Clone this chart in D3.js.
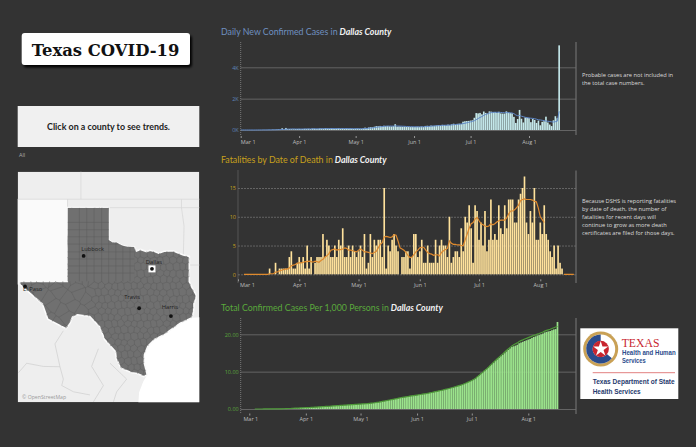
<!DOCTYPE html>
<html>
<head>
<meta charset="utf-8">
<script src="https://cdnjs.cloudflare.com/ajax/libs/d3/7.8.5/d3.min.js"></script>
<style>
  body { margin: 0; background: #333333; }
  text { font-family: "Open Sans", sans-serif; }
</style>
</head>
<body>
<svg id="chart" width="696" height="447"></svg>
<script>
// Daily values start on Mar 1 2020, one row per month (Mar, Apr, May, Jun, Jul, Aug)
var dailyCases = [
  0,0,0,0,0,0,0,0,2,3,5,5,10,8,10,15,10,25,20,30,40,30,110,45,130,55,60,55,50,60,65,
  70,60,65,75,70,80,60,90,85,70,75,100,90,80,110,95,85,105,80,75,90,110,85,100,80,95,75,85,80,70,
  85,90,80,75,95,150,130,160,180,170,210,250,240,260,230,270,250,260,240,230,250,370,220,230,220,210,220,200,210,190,200,
  190,200,210,200,220,190,260,270,250,280,260,270,290,310,280,330,320,300,340,310,360,400,350,390,400,380,530,560,570,580,
  600,620,780,1080,1060,1090,1000,1180,1090,1050,1190,1170,1130,1150,1100,1160,1060,1050,1050,1190,1110,1080,1070,840,450,700,1280,720,480,800,780,
  760,500,700,640,450,600,300,520,560,850,480,350,250,620,880,750,5400
];
var dailyCasesAvg = [
  0,0,0,0,0,0,0,0,0,1,1,2,3,4,5,7,8,10,12,15,19,22,35,38,52,56,60,65,70,62,60,
  62,60,62,66,68,70,70,74,78,75,75,78,82,85,88,90,90,92,92,90,88,90,90,92,90,92,90,88,85,82,
  82,85,82,80,82,90,100,115,125,135,155,175,190,205,220,235,245,250,250,250,248,265,255,250,245,240,235,225,218,212,208,
  205,205,203,202,205,208,215,225,235,245,255,260,270,280,285,295,300,305,310,315,325,340,350,360,370,385,405,430,460,490,
  520,550,590,660,730,800,860,930,990,1030,1080,1110,1130,1130,1130,1130,1120,1110,1105,1110,1110,1100,1085,1045,960,910,930,880,850,810,790,
  770,750,740,720,690,650,640,620,600,570,560,540,520,510,530,560,1190
];
var fatalities = [
  0,0,0,0,0,0,0,0,0,0,0,0,0,0,0,0,1,0,0,2,0,1,1,1,1,1,3,4,1,1,2,
  3,2,3,1,5,1,3,0,2,3,3,3,7,3,6,5,3,3,5,3,6,5,8,3,3,5,3,5,4,3,
  4,5,3,7,1,2,7,3,6,5,6,6,3,15,1,5,4,6,7,5,4,0,3,3,4,4,1,3,7,7,3,
  4,6,2,2,5,2,2,2,6,2,5,6,5,5,3,10,2,3,4,4,3,8,4,10,9,12,8,2,12,11,
  6,9,5,11,4,6,13,6,7,6,12,8,7,12,8,13,13,13,9,9,13,14,15,17,9,7,11,9,15,6,6,
  9,7,12,7,6,4,3,5,1,5,2,1,0,0,0,0,0
];
var fatalitiesAvg = [
  null,null,null,0,0,0,0,0,0,0,0,0,0,0,0,0,0.1,0.1,0.1,0.4,0.4,0.6,0.7,0.8,0.9,0.9,1.1,1.5,1.6,1.7,1.9,
  2,2,2.1,2.2,2.2,2.3,2.2,2.1,2.3,2.2,2.1,2.4,2.6,3,3.2,3.6,4.2,4.3,4.4,4.2,4.3,4.3,4.4,4.6,4.5,4.2,4.2,4.1,4,3.9,
  4.2,4.4,4.2,3.9,3.9,3.8,3.7,3.6,3.8,4,4.6,5.2,5.5,6.5,6.6,6.5,6.4,6.5,6.9,6.8,5.8,4.6,4.4,4.2,3.8,3.3,2.9,3,3.4,3.9,4.2,
  4.6,4.7,4.7,4.2,3.8,3.6,3.5,3.3,3.4,3.4,3.2,3.8,4.1,4.3,4.5,5.8,5.4,5.2,5.2,5.1,5.1,5,5,6,7,8,8.8,9,9.6,9.9,
  9.3,8.8,8.6,8.4,8.3,8.4,8.8,8.6,8.8,9.1,9.3,9.4,9.4,9.4,9.8,10.5,11,11,11.2,11.6,12,12.8,13,13.1,13,13,13,12.9,12.7,12.6,11.5,
  10,9.5,9,null,null,null,null,null,null,null,null,null,0,0,0,0,0,0
];
var casesPer1000 = [
  null,null,null,0,0,0,0,0,0.01,0.01,0.01,0.02,0.02,0.03,0.03,0.04,0.04,0.05,0.06,0.07,0.08,0.09,0.13,0.15,0.2,0.22,0.24,0.26,0.28,0.3,0.33,
  0.35,0.37,0.4,0.43,0.46,0.49,0.51,0.55,0.58,0.61,0.64,0.68,0.71,0.74,0.78,0.82,0.85,0.89,0.92,0.95,0.98,1.02,1.05,1.09,1.12,1.16,1.19,1.22,1.25,1.28,
  1.31,1.35,1.38,1.41,1.45,1.5,1.55,1.61,1.68,1.75,1.83,1.93,2.02,2.12,2.21,2.31,2.41,2.51,2.6,2.69,2.79,2.93,3.01,3.1,3.19,3.27,3.35,3.43,3.51,3.58,3.66,
  3.73,3.81,3.89,3.97,4.05,4.12,4.22,4.32,4.42,4.53,4.63,4.73,4.84,4.96,5.07,5.2,5.32,5.43,5.56,5.68,5.82,5.97,6.11,6.26,6.41,6.56,6.76,6.98,7.2,7.42,
  7.65,7.89,8.19,8.6,9.01,9.43,9.81,10.26,10.68,11.08,11.54,11.99,12.42,12.86,13.28,13.73,14.14,14.54,14.94,15.4,15.83,16.24,16.65,16.8,16.98,17.2,17.6,17.8,18,18.2,18.4,
  18.6,18.78,19.04,19.28,19.45,19.68,19.8,20,20.2,20.5,20.65,20.78,20.88,21.1,21.3,21.4,23.3
];
// the line sits on the bars until mid July, then runs a little above them
var casesLineTail = [
  11.6,12.1,12.55,13.0,13.45,13.9,14.35,14.75,15.2,15.65,16.1,16.5,16.9,17.2,17.45,17.7,18.05,18.3,18.5,18.75,18.9,
  19.1,19.3,19.5,19.7,19.85,20.05,20.2,20.4,20.6,20.85,21.05,21.2,21.35,21.55,21.75,21.95,22.1
];
var casesLine = casesPer1000.slice(0, 132).concat(casesLineTail);

var monthTicks = [new Date(Date.UTC(2020,2,1)), new Date(Date.UTC(2020,3,1)), new Date(Date.UTC(2020,4,1)),
                  new Date(Date.UTC(2020,5,1)), new Date(Date.UTC(2020,6,1)), new Date(Date.UTC(2020,7,1))];
var caseTicks = [0, 2000, 4000];
var fatalTicks = [0, 5, 10, 15];
var perThousandTicks = [0, 10, 20];

var noteCases = ["Probable cases are not included in", "the total case numbers."];
var noteFatal = ["Because DSHS is reporting fatalities", "by date of death, the number of", "fatalities for recent days will",
                 "continue to grow as more death", "certificates are filed for those days."];

// Map outlines, [lon, lat]
var texasOutline = [[-103.04,36.5],[-100,36.5],[-100,34.56],[-99.7,34.4],[-99.4,34.4],[-99.2,34.3],[-98.95,34.2],[-98.6,34.15],[-98.1,34.13],
  [-97.95,33.88],[-97.65,33.98],[-97.2,33.85],[-96.95,33.93],[-96.6,33.85],[-96.3,33.75],[-95.9,33.87],[-95.5,33.88],[-95.2,33.88],[-94.9,33.77],
  [-94.48,33.64],[-94.04,33.55],[-94.04,33.02],[-94.04,31.99],[-93.8,31.55],[-93.55,31.18],[-93.55,30.9],[-93.7,30.6],[-93.72,30.1],[-93.84,29.69],
  [-94.7,29.35],[-95.1,29.1],[-95.9,28.6],[-96.6,28.3],[-97.1,27.85],[-97.35,27.3],[-97.38,26.8],[-97.15,25.96],[-97.4,25.85],[-97.9,26.05],
  [-98.3,26.1],[-99.1,26.4],[-99.45,27.05],[-99.5,27.5],[-100.3,28.28],[-100.67,29.1],[-101.05,29.45],[-101.4,29.77],[-102.3,29.88],[-102.67,29.74],
  [-102.85,29.35],[-103.15,28.98],[-104.5,29.6],[-104.9,30.57],[-106,31.39],[-106.53,31.78],[-106.62,32],[-103.06,32]];
var gulf = [[-93.84,29.69],[-92.5,29.75],[-92.5,23.5],[-97.85,23.5],[-97.75,24.8],[-97.45,25.5],[-97.15,25.96],[-97.38,26.8],[-97.35,27.3],
  [-97.1,27.85],[-96.6,28.3],[-95.9,28.6],[-95.1,29.1],[-94.7,29.35]];
var newMexico = [[-110,37],[-103.04,37],[-103.04,32],[-106.62,32],[-106.62,31.8],[-110,31.8]];
var stateBorders = [
  [[-110,37],[-92,37]], [[-102.05,37],[-102.05,42]], [[-94.62,37],[-94.62,36.5],[-94.43,35.4],[-94.48,33.64]], [[-94.62,36.5],[-92,36.5]],
  [[-94.04,33.02],[-92,33.02]], [[-103.04,37],[-103.04,36.5]], [[-100,36.5],[-94.62,36.5]]
];
var mexicoBorders = [
  [[-103.35,28.85],[-103.97,28],[-103.6,26.5],[-103.35,25.68],[-103.47,25.25],[-102.6,24.83],[-101.38,24.62]],
  [[-106.67,26.1],[-106.06,26.73],[-104.83,26.52],[-103.6,26.5]],
  [[-100.76,27.68],[-101.26,26.52],[-100.39,25.25],[-101.13,24.15]],
  [[-99.9,26.73],[-99.16,26.1],[-98.67,25.68],[-99.41,24.83],[-99.65,24.15]]
];
var gridLons = [-102.16,-101.62,-101.08,-100.52,-100,-99.47,-98.95,-98.42];
var gridLats = [35.62,35.18,34.75,34.31,33.83,33.39,32.96,32.52];
var cities = [
  {name: "Lubbock", lon: -101.85, lat: 33.58, dx: 9, dy: -5},
  {name: "Dallas", lon: -96.8, lat: 32.78, dx: 2, dy: -5},
  {name: "Travis", lon: -97.75, lat: 30.3, dx: -7, dy: -9},
  {name: "Harris", lon: -95.4, lat: 29.8, dx: -1, dy: -7},
  {name: "El Paso", lon: -106.18, lat: 31.68, dx: -2, dy: 4.5}
];

var svg = d3.select("#chart");
var startDay = new Date(Date.UTC(2020,2,1));
function dayOf(i) { return d3.utcDay.offset(startDay, i); }

svg.append("rect").attr("width", 696).attr("height", 447).attr("fill", "#333333");

// Left column
var titleShadow = svg.append("defs").append("filter").attr("id", "boxShadow")
  .attr("x", "-10%").attr("y", "-30%").attr("width", "120%").attr("height", "170%");
titleShadow.append("feDropShadow").attr("dx", 2).attr("dy", 2.5).attr("stdDeviation", 1)
  .attr("flood-color", "#000").attr("flood-opacity", 0.95);

svg.append("rect").attr("x", 21.7).attr("y", 33).attr("width", 168.3).attr("height", 32)
  .attr("rx", 3).attr("fill", "#fff").attr("filter", "url(#boxShadow)");
svg.append("text").attr("x", 105.5).attr("y", 55.5).attr("text-anchor", "middle")
  .style("font-family", "'DejaVu Serif', serif").style("font-weight", "bold").style("font-size", "16.4px")
  .attr("fill", "#111").text("Texas COVID-19");

svg.append("rect").attr("x", 17.7).attr("y", 106).attr("width", 181.6).attr("height", 41).attr("fill", "#f0f0f0");
svg.append("text").attr("x", 108.5).attr("y", 130).attr("text-anchor", "middle")
  .style("font-family", "Lato, sans-serif").style("font-weight", "bold").style("font-size", "8.9px").attr("fill", "#222")
  .text("Click on a county to see trends.");
svg.append("text").attr("x", 19).attr("y", 156.5).style("font-size", "5.5px").attr("fill", "#aaa").text("All");

// Map
var projection = d3.geoMercator().scale(775.3).center([-100, 36.5]).translate([108.67, 207.67]);
var lonLatLine = d3.line().x(function(d) { return projection(d)[0]; }).y(function(d) { return projection(d)[1]; });

var defs = svg.select("defs");
defs.append("clipPath").attr("id", "mapFrame").append("rect")
  .attr("x", 17.7).attr("y", 171.7).attr("width", 181.6).attr("height", 230.6);
defs.append("clipPath").attr("id", "texasClip").append("path").attr("d", lonLatLine(texasOutline) + "Z");

var map = svg.append("g").attr("clip-path", "url(#mapFrame)");
map.append("rect").attr("x", 17.7).attr("y", 171.7).attr("width", 181.6).attr("height", 230.6).attr("fill", "#eeeeee");
map.append("path").attr("d", lonLatLine(newMexico) + "Z").attr("fill", "#fafafa");
map.append("path").attr("d", lonLatLine(gulf) + "Z").attr("fill", "#ffffff");
map.selectAll(".stateLine").data(stateBorders).enter().append("path")
  .attr("d", lonLatLine).attr("fill", "none").attr("stroke", "#d8d8d8").attr("stroke-width", 0.8);
map.selectAll(".mexLine").data(mexicoBorders).enter().append("path")
  .attr("d", lonLatLine).attr("fill", "none").attr("stroke", "#cfcfcf").attr("stroke-width", 0.7);

map.append("path").attr("d", lonLatLine(texasOutline) + "Z").attr("fill", "#707070")
  .attr("stroke", "#fbfbfb").attr("stroke-width", 1.6);

// County mesh: irregular cells in the south and east, square ones up north
var seeds = [];
d3.range(25.7, 33.8, 0.4).forEach(function(lat, row) {
  d3.range(-107, -93.4, 0.48).forEach(function(lon, col) {
    if (lon < -101.5 && lat < 32 && (row + col) % 3 != 0) return;
    var p = projection([lon + (row % 2) * 0.24 + 0.07 * Math.sin(col * 2.1 + row), lat + 0.07 * Math.cos(row * 1.7 + col)]);
    seeds.push(p);
  });
});
var mesh = svg.append("g").attr("clip-path", "url(#texasClip)");
mesh.append("path").attr("d", d3.Delaunay.from(seeds).voronoi([0, 150, 260, 420]).render())
  .attr("fill", "none").attr("stroke", "#5c5c5c").attr("stroke-width", 0.45);
mesh.append("path")
  .attr("d", lonLatLine([[-103.04,36.5],[-98.1,36.5],[-98.1,32],[-103.04,32]]) + "Z").attr("fill", "#707070");
gridLons.forEach(function(lon) {
  mesh.append("path").attr("d", lonLatLine([[lon,36.5],[lon,32]])).attr("stroke", "#5c5c5c").attr("stroke-width", 0.45);
});
gridLats.forEach(function(lat) {
  mesh.append("path").attr("d", lonLatLine([[-103.04,lat],[-98.1,lat]])).attr("stroke", "#5c5c5c").attr("stroke-width", 0.45);
});

// City markers
var dallasXY = projection([-96.8, 32.78]);
svg.append("rect").attr("x", dallasXY[0] - 3.5).attr("y", dallasXY[1] - 3.5).attr("width", 7).attr("height", 7).attr("fill", "#fff");
cities.forEach(function(c) {
  var xy = projection([c.lon, c.lat]);
  svg.append("circle").attr("cx", xy[0]).attr("cy", xy[1]).attr("r", 1.9).attr("fill", "#111");
  svg.append("text").attr("x", xy[0] + c.dx).attr("y", xy[1] + c.dy).attr("text-anchor", c.name == "El Paso" ? "start" : "middle")
    .style("font-size", "5.8px").attr("fill", "#222").text(c.name);
});
svg.append("text").attr("x", 22).attr("y", 399).style("font-size", "5.2px").attr("fill", "#9a9a9a").text("\u00a9 OpenStreetMap");

// One panel: bars per day, a line on top, month axis and value axis
function drawPanel(p) {
  var x = d3.scaleUtc().domain([monthTicks[0], monthTicks[5]]).range(p.xRange);
  var y = d3.scaleLinear().domain([0, p.yMax]).range(p.yRange);
  var g = svg.append("g");

  g.append("text").attr("x", 221).attr("y", p.titleY).style("font-family", "Lato, sans-serif").style("font-size", p.titleSize + "px").attr("fill", p.titleColor)
    .text(p.title)
    .append("tspan").style("font-weight", "bold").style("font-style", "italic").attr("fill", "#f2f2f2").text(" Dallas County");

  var yAxis = d3.axisLeft(y).tickValues(p.yTicks).tickFormat(p.yFormat)
    .tickSize(-(576 - p.axisX)).tickPadding(2);
  var yG = g.append("g").attr("transform", "translate(" + p.axisX + ",0)").call(yAxis);
  yG.select(".domain").remove();
  yG.selectAll("line").attr("stroke", "#6a6a6a").attr("stroke-width", 0.9).attr("stroke-dasharray", p.gridDash);
  yG.selectAll("text").attr("fill", p.tickColor).style("font-size", "5.5px");

  g.selectAll(".bar").data(p.bars).enter().append("rect")
    .attr("x", function(d, i) { return x(dayOf(i)) - p.barWidth / 2; })
    .attr("y", function(d) { return y(d); })
    .attr("width", p.barWidth)
    .attr("height", function(d) { return y(0) - y(d); })
    .attr("fill", p.barColor);

  var line = d3.line().defined(function(d) { return d != null; })
    .x(function(d, i) { return x(dayOf(i)); })
    .y(function(d) { return y(d); });
  g.append("path").datum(p.line).attr("d", line).attr("fill", "none")
    .attr("stroke", p.lineColor).attr("stroke-width", p.lineWidth);

  var xAxis = d3.axisBottom(x).tickValues(monthTicks).tickFormat(d3.utcFormat("%b %-d")).tickSize(2).tickPadding(2);
  var xG = g.append("g").attr("transform", "translate(0," + (p.yRange[0] + p.tickGap) + ")").call(xAxis);
  xG.select(".domain").remove();
  xG.selectAll("line").attr("stroke", "#999");
  xG.selectAll("text").attr("fill", "#bdbdbd").style("font-size", "5.5px");
  xG.select(".tick text").attr("dx", p.firstLabelShift);

  // frame lines left and right of the plot
  g.append("line").attr("x1", p.axisX).attr("x2", p.axisX).attr("y1", p.frameTop).attr("y2", p.frameBottom)
    .attr("stroke", "#8a8a8a").attr("stroke-width", 0.8).attr("stroke-dasharray", "1,1");
  g.append("line").attr("x1", 576).attr("x2", 576).attr("y1", p.frameTop).attr("y2", p.frameBottom)
    .attr("stroke", "#6f6f6f").attr("stroke-width", 1.2);
}

drawPanel({
  title: "Daily New Confirmed Cases in", titleY: 34.5, titleSize: 8.8, titleColor: "#6f90c0",
  xRange: [240.7, 529], axisX: 240.7, yMax: 4000, yRange: [130, 67.3], yTicks: caseTicks,
  yFormat: function(d) { return (d / 1000) + "K"; }, tickColor: "#5f83b8", gridDash: null,
  bars: dailyCases, line: dailyCasesAvg, barColor: "#c4e8ea", barWidth: 1.65, lineColor: "#5f88c8", lineWidth: 1,
  tickGap: 6, firstLabelShift: "7px", frameTop: 42, frameBottom: 135
});
drawPanel({
  title: "Fatalities by Date of Death in", titleY: 163, titleSize: 8.8, titleColor: "#c8a11c",
  xRange: [238, 540.3], axisX: 238, yMax: 15, yRange: [274.3, 188], yTicks: fatalTicks,
  yFormat: d3.format("d"), tickColor: "#c8a11c", gridDash: "2,1",
  bars: fatalities, line: fatalitiesAvg, barColor: "#ffe29c", barWidth: 1.65, lineColor: "#df8a2e", lineWidth: 1.2,
  tickGap: 5, firstLabelShift: "9px", frameTop: 170.5, frameBottom: 283
});
drawPanel({
  title: "Total Confirmed Cases Per 1,000 Persons in", titleY: 311, titleSize: 8.8, titleColor: "#5aa83c",
  xRange: [249.3, 528.3], axisX: 240.7, yMax: 20, yRange: [409, 334.3], yTicks: perThousandTicks,
  yFormat: d3.format(".2f"), tickColor: "#5aa83c", gridDash: null,
  bars: casesPer1000, line: casesLine, barColor: "#9be38c", barWidth: 1.7, lineColor: "#4f9a3a", lineWidth: 1.2,
  tickGap: 4.5, firstLabelShift: "1px", frameTop: 318, frameBottom: 414
});

// Side notes
function drawNote(lines, top) {
  svg.selectAll(null).data(lines).enter().append("text")
    .attr("x", 582).attr("y", function(d, i) { return top + i * 8; })
    .style("font-size", "5.7px").attr("fill", "#dcdcdc").text(function(d) { return d; });
}
drawNote(noteCases, 77);
drawNote(noteFatal, 203);

// Texas DSHS logo
var logo = svg.append("g");
logo.append("rect").attr("x", 580.3).attr("y", 328.3).attr("width", 98).attr("height", 70.7).attr("fill", "#fff");
var seal = logo.append("g").attr("transform", "translate(600.7,349)");
var sealArc = d3.arc();
seal.append("circle").attr("r", 17.5).attr("fill", "#c9a156");
seal.append("circle").attr("r", 14.5).attr("fill", "#fff");
seal.append("path").attr("fill", "#2b4c8c")
  .attr("d", sealArc({innerRadius: 8, outerRadius: 14.5, startAngle: Math.PI * 0.72, endAngle: Math.PI * 2}));
seal.append("circle").attr("r", 8.2).attr("fill", "#c8252f");
seal.append("path").attr("d", d3.symbol(d3.symbolStar, 70)()).attr("fill", "#fff");

function logoText(str, x, y, size, color, len, family) {
  logo.append("text").attr("x", x).attr("y", y)
    .attr("textLength", len).attr("lengthAdjust", "spacingAndGlyphs")
    .style("font-family", family).style("font-weight", family.indexOf("Serif") >= 0 ? "normal" : "bold")
    .style("font-size", size + "px").attr("fill", color).text(str);
}
logoText("TEXAS", 621.7, 346.7, 13, "#c8252f", 37.7, "'Liberation Serif', serif");
logoText("Health and Human", 622, 354.7, 6.6, "#2b4c8c", 53.7, "'Liberation Sans', sans-serif");
logoText("Services", 622, 362.5, 6.6, "#2b4c8c", 23.7, "'Liberation Sans', sans-serif");
logo.append("line").attr("x1", 592.7).attr("x2", 675).attr("y1", 372.7).attr("y2", 372.7).attr("stroke", "#d9605f").attr("stroke-width", 0.8);
logoText("Texas Department of State", 592.7, 383.7, 7.4, "#1f3a6e", 82, "'Liberation Sans', sans-serif");
logoText("Health Services", 592.7, 394, 7.4, "#1f3a6e", 48, "'Liberation Sans', sans-serif");
</script>
</body>
</html>
